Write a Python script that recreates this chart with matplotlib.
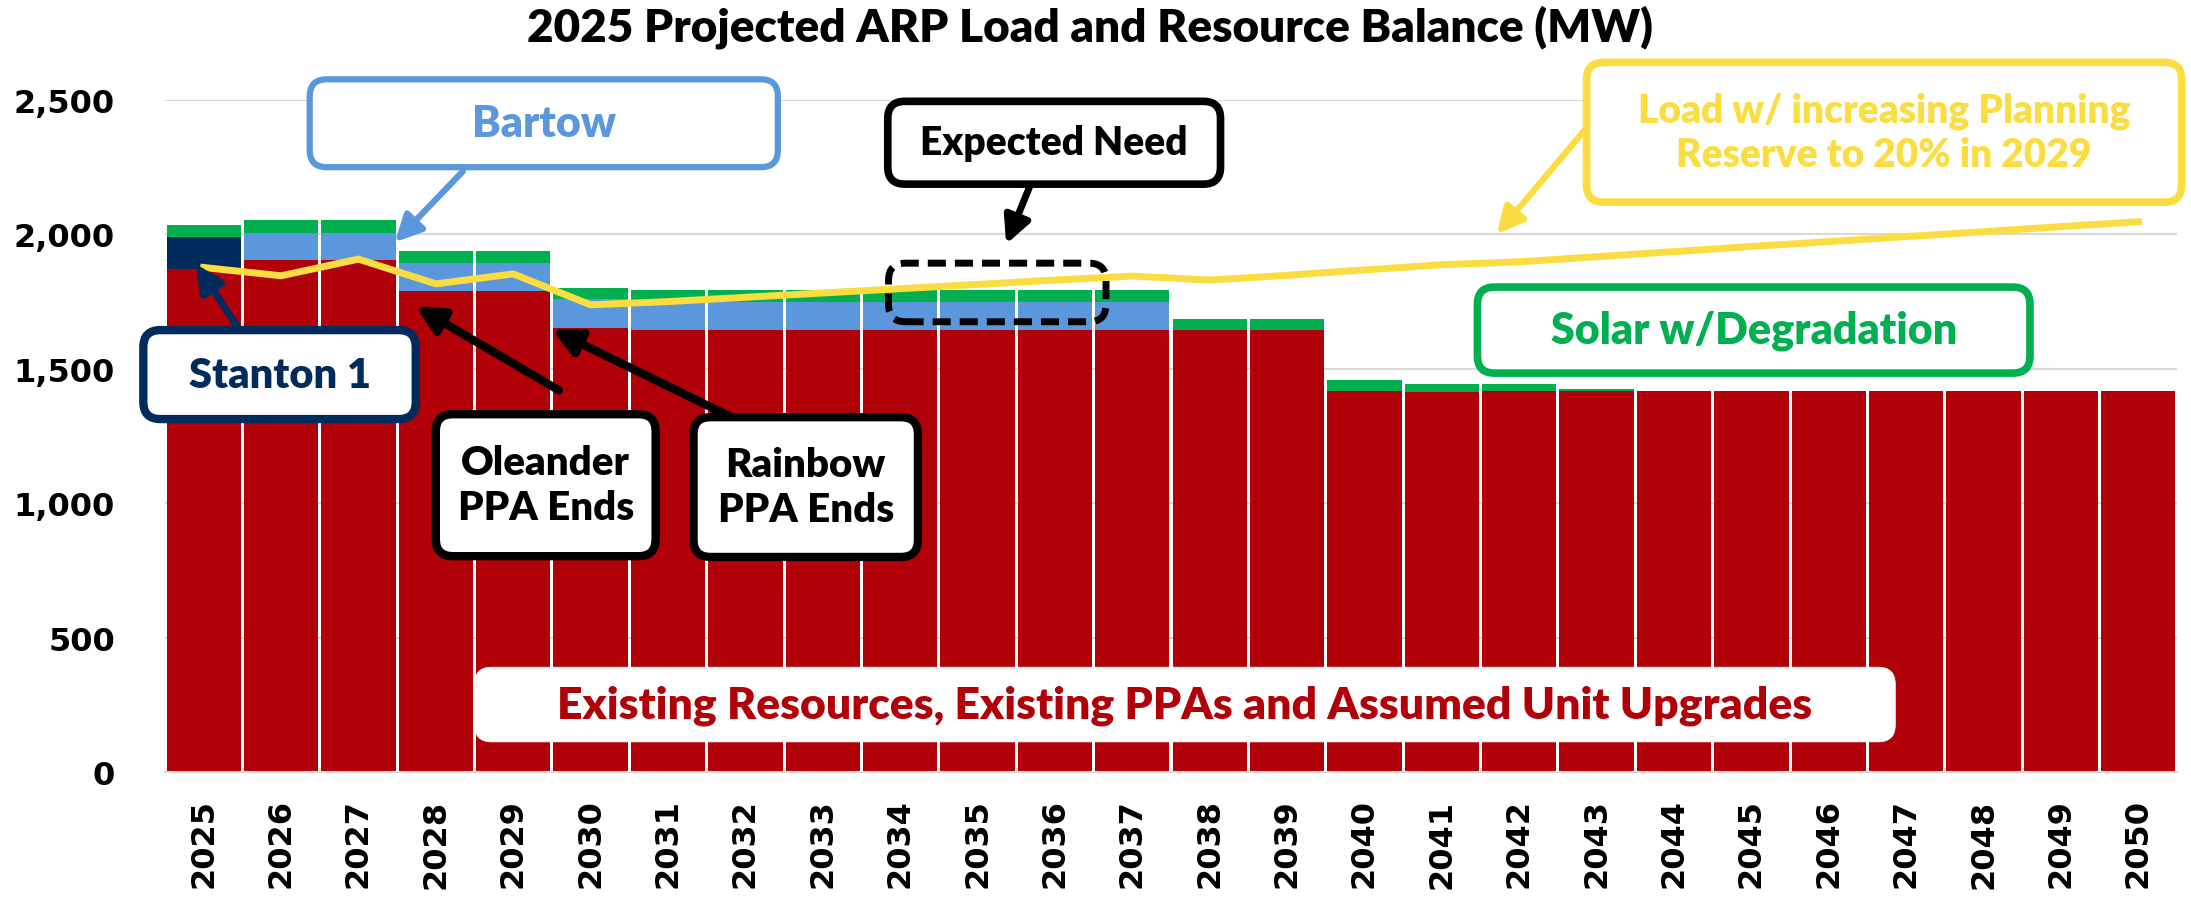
import numpy as np
import matplotlib
matplotlib.use("Agg")
import matplotlib.pyplot as plt
from matplotlib.patches import FancyBboxPatch

# ---- data (MW) ----
years = list(range(2025, 2051))
existing = [1872, 1904, 1904, 1790, 1790, 1652, 1643, 1643, 1643, 1643, 1643, 1643, 1643,
            1643, 1643, 1416, 1412, 1416, 1416, 1416, 1416, 1416, 1416, 1416, 1416, 1416]
stanton = [117, 0, 0, 0, 0, 0, 0, 0, 0, 0, 0, 0, 0,
           0, 0, 0, 0, 0, 0, 0, 0, 0, 0, 0, 0, 0]
bartow = [0, 103, 103, 104, 104, 106, 105, 105, 105, 105, 105, 105, 105,
          0, 0, 0, 0, 0, 0, 0, 0, 0, 0, 0, 0, 0]
solar = [47, 46, 46, 45, 45, 44, 44, 44, 44, 44, 44, 44, 44,
         44, 44, 43, 32, 28, 10, 0, 0, 0, 0, 0, 0, 0]
load = [1877, 1846, 1908, 1816, 1853, 1738, 1750, 1766, 1782, 1798, 1814, 1830, 1845,
        1830, 1848, 1868, 1887, 1898, 1917, 1936, 1955, 1973, 1992, 2010, 2029, 2047]
yticks = [0, 500, 1000, 1500, 2000, 2500]

RED = "#B10008"
NAVY = "#002B5C"
BLUE = "#5B97DD"
GREEN = "#00B050"
YELLOW = "#FBDD42"

W, H = 2191, 904
FONT = "Lato"
WEIGHT = "heavy"

fig = plt.figure(figsize=(W / 100, H / 100), dpi=100)
ax_l, ax_r, ax_b, ax_t = 165 / W, 2177 / W, 1 - 773 / H, 1 - 101 / H
ax = fig.add_axes([ax_l, ax_b, ax_r - ax_l, ax_t - ax_b])

x = np.arange(len(years))
ex = np.array(existing)
st = np.array(stanton)
ba = np.array(bartow)
so = np.array(solar)

kw = dict(width=0.96, linewidth=0, zorder=2)
ax.bar(x, ex, color=RED, **kw)
ax.bar(x, st, bottom=ex, color=NAVY, **kw)
ax.bar(x, ba, bottom=ex + st, color=BLUE, **kw)
ax.bar(x, so, bottom=ex + st + ba, color=GREEN, **kw)
ax.plot(x, load, color=YELLOW, lw=5, zorder=4, solid_joinstyle="miter")

ax.set_xlim(-0.5, len(years) - 0.5)
ax.set_ylim(0, 2500)
ax.set_yticks(yticks)
ax.set_yticklabels([f"{v:,}" for v in yticks])
ax.set_xticks(x)
ax.set_xticklabels([str(y) for y in years], rotation=90)
ax.tick_params(axis="y", length=0, pad=36, labelsize=23)
ax.tick_params(axis="x", length=0, pad=19, labelsize=23)
for lab in ax.get_xticklabels() + ax.get_yticklabels():
    lab.set_fontweight("bold")
    lab.set_family("DejaVu Sans")
ax.yaxis.grid(True, color="#D9D9D9", lw=1.5, zorder=0)
ax.set_axisbelow(True)
for s in ["top", "right", "left"]:
    ax.spines[s].set_visible(False)
ax.spines["bottom"].set_color("#D9D9D9")
ax.spines["bottom"].set_linewidth(1.5)

fig.text(1090 / W, 1 - 27 / H, "2025 Projected ARP Load and Resource Balance (MW)",
         ha="center", va="center", fontsize=33, fontweight=WEIGHT, family=FONT)

# pixel size of one data unit, used to keep box corners round
px_x = (ax_r - ax_l) * W / len(years)
px_y = (ax_t - ax_b) * H / 2500
aspect = px_x / px_y


def box(x0, x1, y0, y1, ec, lw, ls="-", fc="white", z=6):
    p = FancyBboxPatch((x0, y0), x1 - x0, y1 - y0,
                       boxstyle="round,pad=0,rounding_size=0.22",
                       mutation_aspect=aspect, fc=fc, ec=ec, lw=lw, ls=ls,
                       zorder=z, clip_on=False)
    ax.add_patch(p)


def label(x0, x1, y0, y1, text, color, ec, lw=5, size=30, fc="white"):
    box(x0, x1, y0, y1, ec, lw, fc=fc)
    ax.text((x0 + x1) / 2, (y0 + y1) / 2, text, ha="center", va="center",
            color=color, fontsize=size, fontweight=WEIGHT, family=FONT,
            linespacing=1.25, zorder=7, clip_on=False)


def arrow(tail, tip, color, lw=5.0, scale=40):
    ax.annotate("", xy=tip, xytext=tail, zorder=5, annotation_clip=False,
                arrowprops=dict(arrowstyle="-|>", color=color, lw=lw,
                                mutation_scale=scale, shrinkA=0, shrinkB=0))


# expected need dashed outline
box(8.85, 11.66, 1675, 1893, "black", 5.0, ls=(0, (2.6, 1.3)), fc="none", z=5)

arrow((3.35, 2235), (2.47, 1971), BLUE, lw=4.5)
arrow((10.68, 2182), (10.37, 1964), "black")
arrow((17.85, 2389), (16.71, 2001), YELLOW, lw=4.5)
arrow((0.44, 1655), (-0.10, 1889), NAVY)
arrow((4.59, 1420), (2.74, 1733), "black", lw=6)
arrow((6.79, 1324), (4.50, 1647), "black", lw=6)

label(1.37, 7.42, 2250, 2577, "Bartow", BLUE, BLUE, lw=4.5, size=31)
label(8.84, 13.14, 2187, 2495, "Expected Need", "black", "black", lw=5.5, size=28)
label(17.87, 25.56, 2120, 2640, "Load w/ increasing Planning\nReserve to 20% in 2029",
      YELLOW, YELLOW, lw=5.5, size=28)
label(16.46, 23.60, 1484, 1804, "Solar w/Degradation", GREEN, GREEN, lw=5.5, size=31)
label(-0.78, 2.74, 1313, 1644, "Stanton 1", NAVY, NAVY, lw=6, size=30)
label(3.0, 5.84, 803, 1331, "Oleander\nPPA Ends", "black", "black", lw=6, size=29)
label(6.33, 9.23, 800, 1320, "Rainbow\nPPA Ends", "black", "black", lw=6, size=29)
label(3.5, 21.86, 112, 390, "Existing Resources, Existing PPAs and Assumed Unit Upgrades",
      RED, "white", lw=0.5, size=32)

plt.savefig("out.png", dpi=100)
